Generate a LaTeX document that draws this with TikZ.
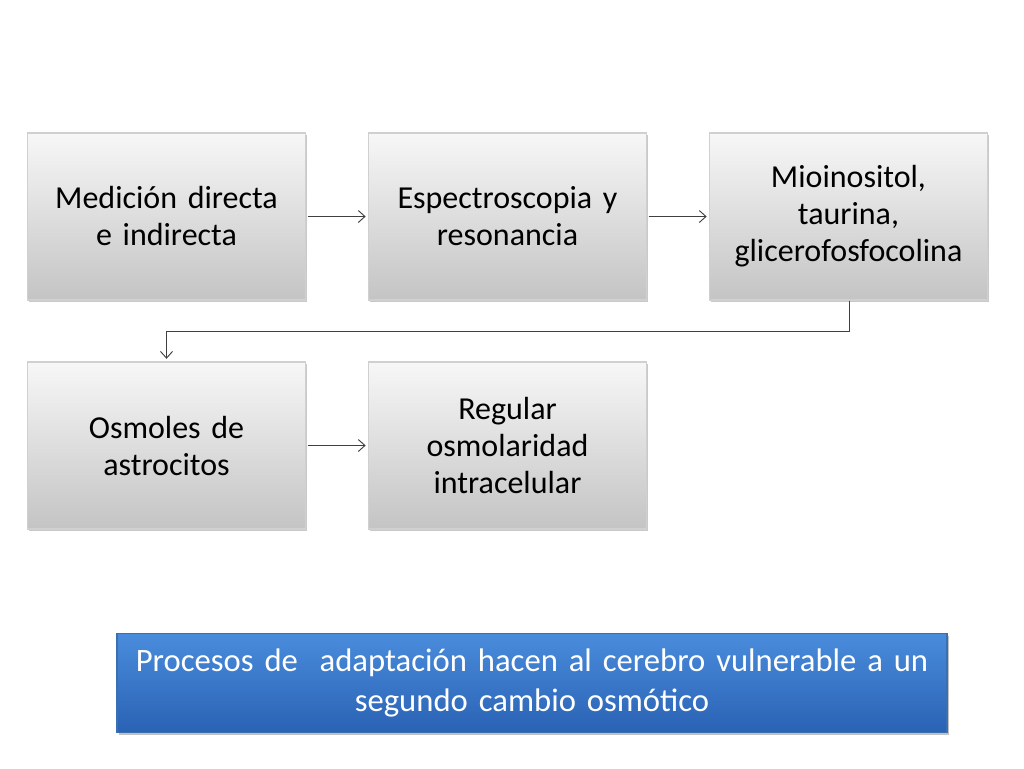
\documentclass[tikz,border=0pt]{standalone}
\usepackage{fontspec}
\setmainfont{Carlito}
\usetikzlibrary{shadows,arrows.meta}
\definecolor{gtop}{HTML}{F7F7F7}
\definecolor{gbot}{HTML}{C4C4C4}
\definecolor{gline}{HTML}{D0D0D0}
\definecolor{btop}{HTML}{4A8CDC}
\definecolor{bbot}{HTML}{2A62B4}
\definecolor{bline}{HTML}{3A6FB0}
\tikzset{
  graybox/.style={draw=gline, line width=0.8pt, top color=gtop, bottom color=gbot,
    minimum width=207.75pt, minimum height=125.25pt, align=center, inner sep=2pt,
    text width=204pt, font=\fontsize{24}{27.75}\selectfont,
    drop shadow={shadow xshift=1.2pt, shadow yshift=-1.5pt, opacity=0.35, fill=black!60}},
  bluebox/.style={draw=bline, line width=0.8pt, top color=btop, bottom color=bbot,
    minimum width=622.5pt, minimum height=74.25pt, align=center, text=white,
    text width=618pt, inner sep=1pt, font=\fontsize{24.5}{30}\selectfont,
    drop shadow={shadow xshift=1.5pt, shadow yshift=-2pt, opacity=0.4, fill=black!60}},
  conn/.style={draw=black!75, line width=0.7pt, -{Straight Barb[length=5pt,width=9pt]}}
}
\begin{document}
\begin{tikzpicture}[x=0.75pt,y=-0.75pt]
\useasboundingbox[fill=white] (0,0) rectangle (1024,768);
\node[graybox] (b1) at (166.5,216.5) {Medición directa\\e indirecta};
\node[graybox] (b2) at (507.5,216.5) {Espectroscopia y\\resonancia};
\node[graybox] (b3) at (848.5,216.5) {Mioinositol,\\taurina,\\glicerofosfocolina};
\node[graybox] (b4) at (166.5,445.5) {Osmoles de\\astrocitos};
\node[graybox] (b5) at (507.5,445.5) {Regular\\osmolaridad\\intracelular};
\node[bluebox] (bl) at (532,683) {Procesos de\ \ adaptación hacen al cerebro vulnerable a un\\segundo cambio osmótico};
\draw[conn] ([xshift=1.5pt]b1.east) -- ([xshift=-2pt]b2.west);
\draw[conn] ([xshift=1.5pt]b2.east) -- ([xshift=-2pt]b3.west);
\draw[conn] ([xshift=1.5pt]b4.east) -- ([xshift=-2pt]b5.west);
\coordinate (m2) at (166.5,331);
\draw[conn] ([xshift=1pt]b3.south) |- (m2) -- ([yshift=2pt]b4.north);
\end{tikzpicture}
\end{document}
